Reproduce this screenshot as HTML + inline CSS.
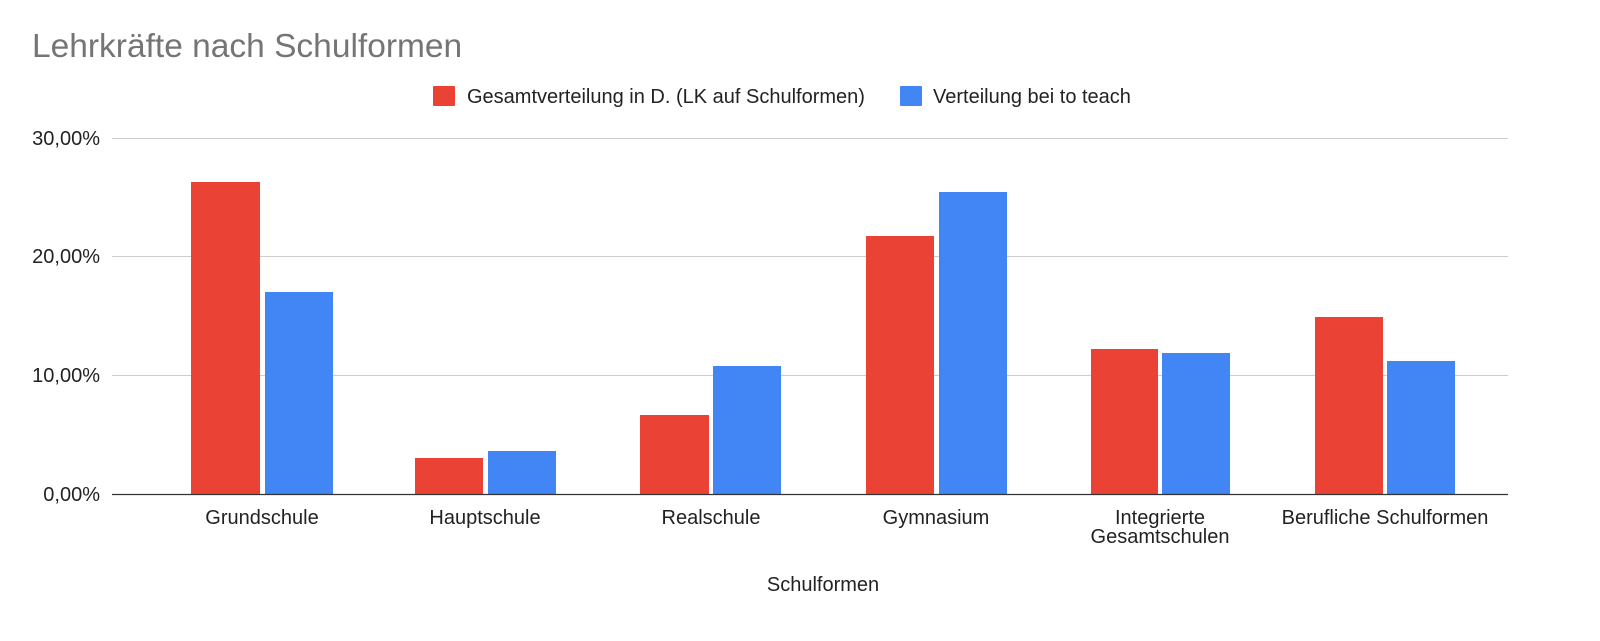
<!DOCTYPE html>
<html><head><meta charset="utf-8"><style>
html,body{margin:0;padding:0;background:#fff;}
svg{display:block;font-family:"Liberation Sans",Arial,sans-serif;}
</style></head><body>
<svg width="1600" height="641" viewBox="0 0 1600 641" xmlns="http://www.w3.org/2000/svg">
<rect width="1600" height="641" fill="#fff"/>
<text x="32" y="57" font-size="33.5" fill="#757575">Lehrkräfte nach Schulformen</text>
<rect x="433" y="86" width="22" height="20" rx="1" fill="#ea4335"/>
<text x="467" y="103" font-size="20" fill="#222">Gesamtverteilung in D. (LK auf Schulformen)</text>
<rect x="900" y="86" width="22" height="20" rx="1" fill="#4285f4"/>
<text x="933" y="103" font-size="20" fill="#222">Verteilung bei to teach</text>
<g stroke="#cccccc" stroke-width="1">
<line x1="112" y1="138.5" x2="1508" y2="138.5"/>
<line x1="112" y1="256.5" x2="1508" y2="256.5"/>
<line x1="112" y1="375.5" x2="1508" y2="375.5"/>
</g>
<g font-size="20" fill="#222" text-anchor="end">
<text x="100" y="145">30,00%</text>
<text x="100" y="263">20,00%</text>
<text x="100" y="382">10,00%</text>
<text x="100" y="501">0,00%</text>
</g>
<g fill="#ea4335">
<rect x="191" y="182" width="69" height="312"/>
<rect x="415" y="458" width="68" height="36"/>
<rect x="640" y="415" width="69" height="79"/>
<rect x="866" y="236" width="68" height="258"/>
<rect x="1091" y="349" width="67" height="145"/>
<rect x="1315" y="317" width="68" height="177"/>
</g>
<g fill="#4285f4">
<rect x="265" y="292" width="68" height="202"/>
<rect x="488" y="451" width="68" height="43"/>
<rect x="713" y="366" width="68" height="128"/>
<rect x="939" y="192" width="68" height="302"/>
<rect x="1162" y="353" width="68" height="141"/>
<rect x="1387" y="361" width="68" height="133"/>
</g>
<line x1="112" y1="494.5" x2="1508" y2="494.5" stroke="#333" stroke-width="1.3"/>
<g font-size="20" fill="#222" text-anchor="middle">
<text x="262" y="524">Grundschule</text>
<text x="485" y="524">Hauptschule</text>
<text x="711" y="524">Realschule</text>
<text x="936" y="524">Gymnasium</text>
<text x="1160" y="524">Integrierte</text>
<text x="1160" y="543">Gesamtschulen</text>
<text x="1385" y="524">Berufliche Schulformen</text>
<text x="823" y="591">Schulformen</text>
</g>
</svg>
</body></html>
